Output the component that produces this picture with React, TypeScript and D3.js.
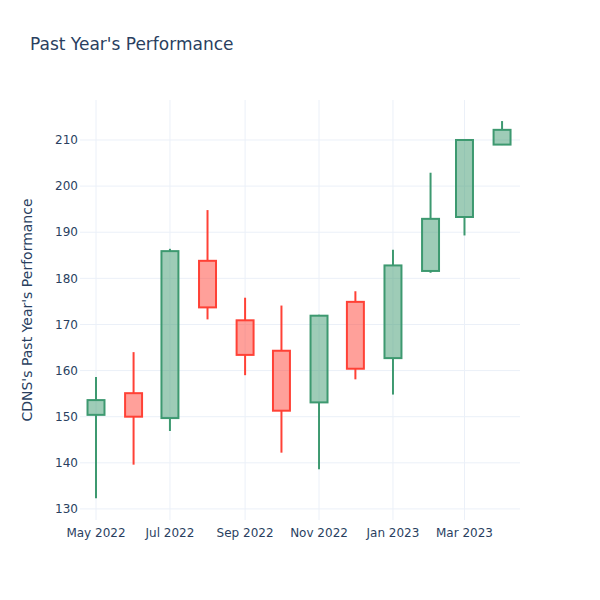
import React from "react";
import * as d3 from "d3";

const months = ["2022-05-01","2022-06-01","2022-07-01","2022-08-01","2022-09-01","2022-10-01","2022-11-01","2022-12-01","2023-01-01","2023-02-01","2023-03-01","2023-04-01"];
const openV = [150.4, 155.1, 149.7, 183.8, 170.9, 164.3, 153.1, 174.9, 162.7, 181.6, 193.3, 209.0];
const highV = [158.6, 164.0, 186.4, 194.8, 175.8, 174.1, 172.1, 177.2, 186.2, 202.9, 210.1, 214.1];
const lowV = [132.3, 139.6, 146.9, 171.1, 159.0, 142.2, 138.6, 158.1, 154.8, 181.2, 189.3, 208.9];
const closeV = [153.6, 150.0, 185.9, 173.7, 163.4, 151.3, 171.9, 160.4, 182.8, 192.9, 210.0, 212.2];
const yTicks = [130, 140, 150, 160, 170, 180, 190, 200, 210];

const W = 600, H = 600;
const M = { l: 80, r: 80, t: 100, b: 80 };
const FONT = '"DejaVu Sans", verdana, arial, sans-serif';
const TXT = "#2a3f5f";
const GRID = "#EBF0F8";
const INC = "#3D9970";
const DEC = "#FF4136";

const parse = d3.utcParse("%Y-%m-%d");
const DAY = 86400000;

export default function App() {
  const dates = months.map((m) => parse(m) as Date);
  const x = d3
    .scaleUtc()
    .domain([new Date(dates[0].getTime() - 13.2 * DAY), new Date(dates[dates.length - 1].getTime() + 14.8 * DAY)])
    .range([M.l, W - M.r]);
  const y = d3.scaleLinear().domain([127.6, 218.67]).range([H - M.b, M.t]);
  const xTicks = d3.utcMonth.every(2)!.range(dates[0], new Date(dates[dates.length - 1].getTime() + DAY));
  const fmt = d3.utcFormat("%b %Y");
  const halfW = 7 * DAY;

  return (
    <svg width={W} height={H} style={{ display: "block", position: "absolute", left: 0, top: 0 }} fontFamily={FONT}>
      <rect x={0} y={0} width={W} height={H} fill="#fff" />
      {xTicks.map((t, i) => (
        <line key={"gx" + i} x1={x(t)} x2={x(t)} y1={M.t} y2={H - M.b} stroke={GRID} strokeWidth={1} />
      ))}
      {yTicks.map((t, i) => (
        <line key={"gy" + i} x1={M.l} x2={W - M.r} y1={y(t)} y2={y(t)} stroke={GRID} strokeWidth={1} />
      ))}
      {dates.map((d, i) => {
        const up = closeV[i] >= openV[i];
        const c = up ? INC : DEC;
        const fill = up ? "rgba(61,153,112,0.5)" : "rgba(255,65,54,0.5)";
        const x0 = x(new Date(d.getTime() - halfW));
        const x1 = x(new Date(d.getTime() + halfW));
        const xc = x(d);
        const top = y(Math.max(openV[i], closeV[i]));
        const bot = y(Math.min(openV[i], closeV[i]));
        return (
          <g key={"c" + i}>
            <line x1={xc} x2={xc} y1={y(highV[i])} y2={top} stroke={c} strokeWidth={2} />
            <line x1={xc} x2={xc} y1={bot} y2={y(lowV[i])} stroke={c} strokeWidth={2} />
            <rect x={x0} y={top} width={x1 - x0} height={bot - top} fill={fill} stroke={c} strokeWidth={2} />
          </g>
        );
      })}
      {yTicks.map((t, i) => (
        <text key={"ty" + i} x={M.l - 2} y={y(t)} dy="0.35em" textAnchor="end" fontSize={12} fill={TXT}>
          {t}
        </text>
      ))}
      {xTicks.map((t, i) => (
        <text key={"tx" + i} x={x(t)} y={H - M.b + 17} textAnchor="middle" fontSize={12} fill={TXT}>
          {fmt(t)}
        </text>
      ))}
      <text
        transform={`translate(32,${(M.t + H - M.b) / 2}) rotate(-90)`}
        textAnchor="middle"
        fontSize={14}
        fill={TXT}
      >
        CDNS's Past Year's Performance
      </text>
      <text x={30} y={50} fontSize={17} fill={TXT}>
        Past Year's Performance
      </text>
    </svg>
  );
}
